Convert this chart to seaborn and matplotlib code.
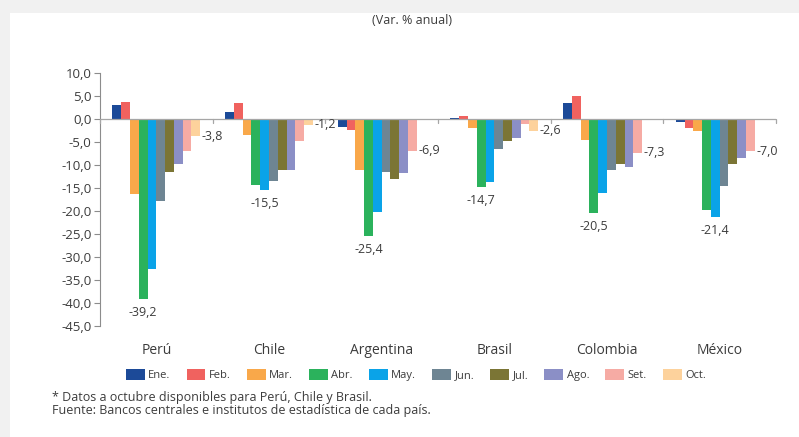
import numpy as np
import pandas as pd
import matplotlib
matplotlib.use("Agg")
import matplotlib.pyplot as plt
from matplotlib.patches import Patch, Rectangle
import seaborn as sns

# Monthly year-on-year change by country (Oct only available for Perú, Chile, Brasil)
paises = ["Perú", "Chile", "Argentina", "Brasil", "Colombia", "México"]
meses = ["Ene.", "Feb.", "Mar.", "Abr.", "May.", "Jun.", "Jul.", "Ago.", "Set.", "Oct."]

peru      = [3.1, 3.8, -16.2, -39.2, -32.5, -17.8, -11.5, -9.8, -7.0, -3.8]
chile     = [1.6, 3.5, -3.4, -14.3, -15.5, -13.4, -11.1, -11.0, -4.7, -1.2]
argentina = [-1.7, -2.3, -11.0, -25.4, -20.3, -11.6, -13.0, -11.8, -6.9, np.nan]
brasil    = [0.2, 0.7, -2.0, -14.7, -13.8, -6.5, -4.7, -4.2, -1.1, -2.6]
colombia  = [3.5, 4.9, -4.5, -20.5, -16.1, -11.0, -9.7, -10.4, -7.3, np.nan]
mexico    = [-0.7, -2.0, -2.6, -19.8, -21.4, -14.5, -9.7, -8.4, -7.0, np.nan]

series = [peru, chile, argentina, brasil, colombia, mexico]

colores = ["#1c4a98", "#f0625f", "#f9a84a", "#2bb25c", "#0aa3e8",
           "#6e8593", "#7b7535", "#8b8fc6", "#f6aba4", "#fdd29c"]

rows = []
for pais, vals in zip(paises, series):
    for mes, v in zip(meses, vals):
        if not np.isnan(v):
            rows.append({"pais": pais, "mes": mes, "valor": v})
df = pd.DataFrame(rows)

sns.set_theme(style="white")
plt.rcParams["font.family"] = ["Open Sans", "DejaVu Sans"]
txt = "#3c3c3c"

fig = plt.figure(figsize=(7.99, 4.37), dpi=100)
# light frame along the top and left edges
fig.patches.append(Rectangle((0, 1 - 13 / 437), 1, 13 / 437, transform=fig.transFigure,
                             facecolor="#f1f1f1", edgecolor="none", zorder=0))
fig.patches.append(Rectangle((0, 0), 10 / 799, 1, transform=fig.transFigure,
                             facecolor="#f1f1f1", edgecolor="none", zorder=0))

ax = fig.add_axes([100 / 799, 1 - 326 / 437, 676 / 799, 253 / 437])
ax.set_facecolor("none")

sns.barplot(data=df, x="pais", y="valor", hue="mes", order=paises, hue_order=meses,
            palette=colores, width=0.78, saturation=1, legend=False, ax=ax,
            edgecolor="none", linewidth=0)

ax.set_ylim(-45, 10)
ax.set_xlim(-0.5, len(paises) - 0.5)
ax.set_yticks(np.arange(-45, 10.1, 5))
ax.set_yticklabels([f"{t:.1f}".replace(".", ",") for t in np.arange(-45, 10.1, 5)],
                   fontsize=9.5, color=txt)
ax.set_xlabel("")
ax.set_ylabel("")
ax.set_xticks(range(len(paises)))
ax.set_xticklabels(paises, fontsize=10, color=txt)
ax.tick_params(axis="x", length=0, pad=12)
ax.tick_params(axis="y", length=4, width=0.8, color="#8c8c8c", direction="out", left=True, pad=2)

for s in ["top", "right", "bottom"]:
    ax.spines[s].set_visible(False)
ax.spines["left"].set_color("#8c8c8c")
ax.spines["left"].set_linewidth(0.8)

# zero line with category-boundary ticks
ax.axhline(0, color="#a6a6a6", lw=0.9, zorder=3)
for b in np.arange(-0.5, len(paises), 1.0):
    ax.plot([b, b], [0, -0.8], color="#a6a6a6", lw=0.9, zorder=3, clip_on=False)

# value labels: lowest reading and last available month per country
def bar_for(ci, mi):
    cont = ax.containers[mi]
    for p in cont.patches:
        cx = p.get_x() + p.get_width() / 2
        if abs(cx - (ci + (mi - 4.5) * 0.078)) < 0.05:
            return p
    return None

for ci, vals in enumerate(series):
    arr = np.array(vals, dtype=float)
    imin = int(np.nanargmin(arr))
    ilast = int(np.max(np.where(~np.isnan(arr))[0]))
    p = bar_for(ci, imin)
    if p is not None:
        ax.annotate(f"{arr[imin]:.1f}".replace(".", ","),
                    (p.get_x() + p.get_width() / 2, arr[imin]),
                    xytext=(0, -5), textcoords="offset points",
                    ha="center", va="top", fontsize=9, color=txt)
    p = bar_for(ci, ilast)
    if p is not None:
        ax.annotate(f"{arr[ilast]:.1f}".replace(".", ","),
                    (p.get_x() + p.get_width(), arr[ilast]),
                    xytext=(1, 0), textcoords="offset points",
                    ha="left", va="center", fontsize=9, color=txt)

handles = [Patch(facecolor=c, edgecolor="none") for c in colores]
fig.legend(handles, meses, loc="center", bbox_to_anchor=(416 / 799, 1 - 375 / 437),
           ncol=10, frameon=False, fontsize=8, handlelength=1.7, handleheight=1.1,
           handletextpad=0.3, columnspacing=1.45, labelcolor=txt)

fig.text(412 / 799, 1 - 21 / 437, "(Var. % anual)", ha="center", va="center",
         fontsize=9, color=txt)
fig.text(52 / 799, 1 - 397 / 437, "* Datos a octubre disponibles para Perú, Chile y Brasil.",
         ha="left", va="center", fontsize=9, color=txt)
fig.text(52 / 799, 1 - 410.5 / 437, "Fuente: Bancos centrales e institutos de estadística de cada país.",
         ha="left", va="center", fontsize=9, color=txt)

fig.savefig("out.png", dpi=100, facecolor="white")
